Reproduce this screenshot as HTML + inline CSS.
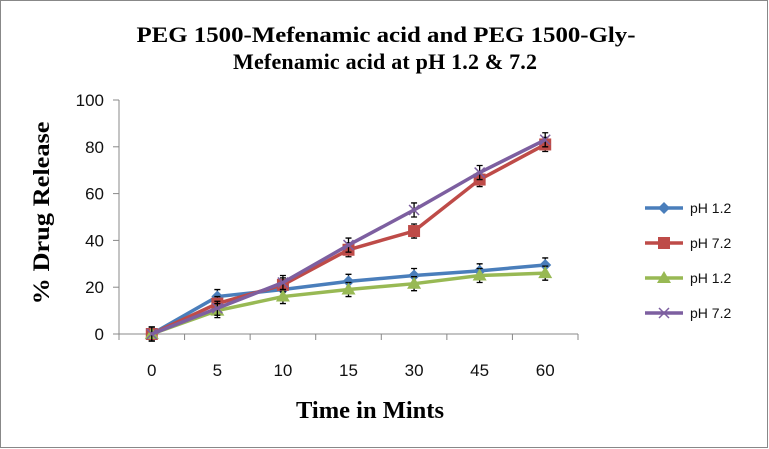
<!DOCTYPE html>
<html><head><meta charset="utf-8"><style>
html,body{margin:0;padding:0;background:#fff}
svg{display:block}
</style></head><body>
<svg width="769" height="449" xmlns="http://www.w3.org/2000/svg">
<rect x="0.5" y="0.5" width="767" height="447" fill="#fff" stroke="#888"/>
<text x="386" y="42" text-anchor="middle" font-family="Liberation Serif, serif" font-weight="bold" font-size="22" textLength="499" lengthAdjust="spacingAndGlyphs">PEG 1500-Mefenamic acid and PEG 1500-Gly-</text>
<text x="385" y="69" text-anchor="middle" font-family="Liberation Serif, serif" font-weight="bold" font-size="22" textLength="304" lengthAdjust="spacing">Mefenamic acid at pH 1.2 &amp; 7.2</text>
<text transform="translate(49,213) rotate(-90)" text-anchor="middle" font-family="Liberation Serif, serif" font-weight="bold" font-size="23" textLength="183" lengthAdjust="spacingAndGlyphs">% Drug Release</text>
<text x="370" y="418" text-anchor="middle" font-family="Liberation Serif, serif" font-weight="bold" font-size="24" textLength="148" lengthAdjust="spacingAndGlyphs">Time in Mints</text>
<g id="axes"></g>
<g id="series"></g>
<g id="legend"></g>
</svg>
<script>
const categories=["0","5","10","15","30","45","60"];
const yTicks=[0,20,40,60,80,100];
const blueVals=[0,16,19,22.5,25,27,29.5];
const redVals=[0,13,21,36,44,66,81];
const greenVals=[0,10,16,19,21.5,25,26];
const purpleVals=[0,11,22,38,53,69,83];
const errVals=[3,3,3,3,3,3,3];
const NS="http://www.w3.org/2000/svg";
const L=119,R=578,T=100,B=334;
const bw=(R-L)/categories.length;
const xs=i=>L+bw*(i+0.5);
const ys=v=>B-(v/100)*(B-T);
function mk(tag,at,parent){const e=document.createElementNS(NS,tag);for(const k in at)e.setAttribute(k,at[k]);parent.appendChild(e);return e;}
const ax=document.getElementById('axes');
let a=mk('line',{x1:L,y1:T,x2:L,y2:B,stroke:'#888'},ax);


a=mk('line',{x1:L,y1:B,x2:R,y2:B,stroke:'#888'},ax);


yTicks.forEach(v=>{
 const t=mk('line',{x1:L-6,y1:ys(v),x2:L,y2:ys(v),stroke:'#888'},ax);
 
 
 const tx=mk('text',{x:L-15,y:ys(v)+6,'text-anchor':'end','font-family':'Liberation Sans, sans-serif','font-size':'17',fill:'#111'},ax);
 tx.textContent=v;
 
 
});
for(let i=0;i<=categories.length;i++){
 const t=mk('line',{x1:L+bw*i,y1:B,x2:L+bw*i,y2:B+6,stroke:'#888'},ax);
 
 
}
categories.forEach((c,i)=>{
 const tx=mk('text',{x:xs(i),y:B+42,'text-anchor':'middle','font-family':'Liberation Sans, sans-serif','font-size':'17',fill:'#111'},ax);
 tx.textContent=c;
 
 
});
function marker(type,x,y,color,g){
 let m;
 if(type==='diamond')m=mk('polygon',{points:`${x},${y-6} ${x+6},${y} ${x},${y+6} ${x-6},${y}`,fill:color},g);
 else if(type==='square')m=mk('rect',{x:x-6,y:y-6,width:12,height:12,fill:color},g);
 else if(type==='triangle')m=mk('polygon',{points:`${x},${y-7} ${x+7},${y+5} ${x-7},${y+5}`,fill:color},g);
 else {m=mk('path',{d:`M${x-5},${y-5}L${x+5},${y+5}M${x-5},${y+5}L${x+5},${y-5}`,stroke:color,'stroke-width':1.5},g);}
 return m;
}
const series=[
 {name:'pH 1.2',vals:blueVals,color:'#4a7ebb',m:'diamond'},
 {name:'pH 7.2',vals:redVals,color:'#be4b48',m:'square'},
 {name:'pH 1.2',vals:greenVals,color:'#98b954',m:'triangle'},
 {name:'pH 7.2',vals:purpleVals,color:'#7d5fa0',m:'x'}
];
const sg=document.getElementById('series');
series.forEach((s,si)=>{
 const g=mk('g',{},sg);
 
 
 s.vals.forEach((v,i)=>{
  const e=errVals[i],x=xs(i);
  const eb=mk('path',{d:`M${x},${ys(v+e)}V${ys(v-e)}M${x-3},${ys(v+e)}H${x+3}M${x-3},${ys(v-e)}H${x+3}`,stroke:'#000','stroke-width':1.3,fill:'none'},g);
  
  
 });
 const ln=mk('polyline',{points:s.vals.map((v,i)=>xs(i)+','+ys(v)).join(' '),fill:'none',stroke:s.color,'stroke-width':3.5},g);
 
 
 s.vals.forEach((v,i)=>{
  const m=marker(s.m,xs(i),ys(v),s.color,g);
  
  
 });
});
const lg=document.getElementById('legend');
series.forEach((s,si)=>{
 const y=208+si*35;
 const g=mk('g',{},lg);
 
 
 mk('line',{x1:645,y1:y,x2:683,y2:y,stroke:s.color,'stroke-width':3.5},g);
 marker(s.m,664,y,s.color,g);
 const t=mk('text',{x:690,y:y+5,'font-family':'Liberation Sans, sans-serif','font-size':'14',fill:'#111'},g);
 t.textContent=s.name;
});
</script>
</body></html>
